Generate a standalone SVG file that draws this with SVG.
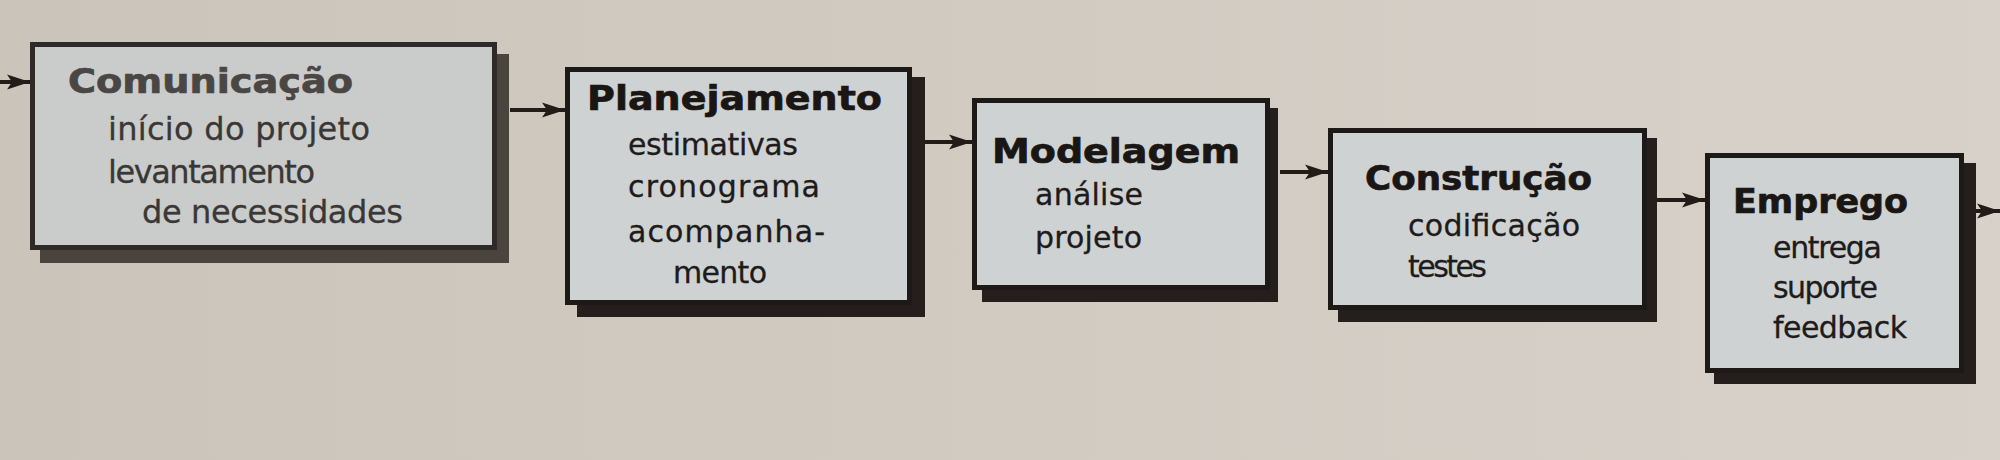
<svg xmlns="http://www.w3.org/2000/svg" width="2000" height="460" viewBox="0 0 2000 460">
  <defs>
    <linearGradient id="paper" x1="0" y1="0" x2="1" y2="0">
      <stop offset="0" stop-color="#cbc4ba"/>
      <stop offset="0.5" stop-color="#d2cbc2"/>
      <stop offset="1" stop-color="#d7d1c9"/>
    </linearGradient>
    <marker id="arrow" markerUnits="userSpaceOnUse" markerWidth="24" markerHeight="18" refX="23" refY="9" orient="auto">
      <path d="M0,1.5 L23,9 L0,16.5 L5,9 Z" fill="#221c19"/>
    </marker>
    <style>
      .box { fill: #ced2d3; stroke: #1d1917; stroke-width: 5; }
      .box1 { fill: #c9cccb; stroke: #2e2a27; stroke-width: 5; }
      .shadow { fill: #241f1c; }
      .shadow1 { fill: #4a443f; }
      .title { font-family: "DejaVu Sans", sans-serif; font-weight: bold; font-size: 33px; fill: #1a1614; stroke: #1a1614; stroke-width: 0.7; }
      .title1 { font-family: "DejaVu Sans", sans-serif; font-weight: bold; font-size: 33px; fill: #4a4643; stroke: #4a4643; stroke-width: 0.7; }
      .sub { font-family: "DejaVu Sans", sans-serif; font-size: 30px; fill: #1e1b1a; stroke: #1e1b1a; stroke-width: 0.3; }
      .sub1 { font-family: "DejaVu Sans", sans-serif; font-size: 32px; fill: #3a3735; stroke: #3a3735; stroke-width: 0.3; }
      .conn { stroke: #221c19; stroke-width: 4; fill: none; marker-end: url(#arrow); }
    </style>
  </defs>

  <rect x="0" y="0" width="2000" height="460" fill="url(#paper)"/>

  <g id="connectors">
    <line class="conn" x1="0" y1="82" x2="30" y2="82"/>
    <line class="conn" x1="510" y1="110" x2="565" y2="110"/>
    <line class="conn" x1="925" y1="142" x2="972" y2="142"/>
    <line class="conn" x1="1280" y1="172" x2="1328" y2="172"/>
    <line class="conn" x1="1657" y1="200" x2="1705" y2="200"/>
    <line class="conn" x1="1975" y1="211" x2="2000" y2="211"/>
  </g>

  <g id="comunicacao">
    <rect class="shadow1" x="40" y="54" width="469" height="209"/>
    <rect class="box1" x="32.5" y="44.5" width="462" height="203"/>
    <text class="title1" x="68" y="93" textLength="285" lengthAdjust="spacingAndGlyphs">Comunicação</text>
    <text class="sub1" x="108" y="140" textLength="262">início do projeto</text>
    <text class="sub1" x="108" y="183" textLength="207">levantamento</text>
    <text class="sub1" x="142" y="223" textLength="261">de necessidades</text>
  </g>

  <g id="planejamento">
    <rect class="shadow" x="577" y="77" width="348" height="240"/>
    <rect class="box" x="567.5" y="69.5" width="342" height="233"/>
    <text class="title" x="587" y="110" textLength="295" lengthAdjust="spacingAndGlyphs">Planejamento</text>
    <text class="sub" x="628" y="155" textLength="170">estimativas</text>
    <text class="sub" x="628" y="197" textLength="192">cronograma</text>
    <text class="sub" x="628" y="242" textLength="197">acompanha-</text>
    <text class="sub" x="673" y="283" textLength="94">mento</text>
  </g>

  <g id="modelagem">
    <rect class="shadow" x="982" y="108" width="296" height="194"/>
    <rect class="box" x="974.5" y="100.5" width="293" height="187"/>
    <text class="title" x="992" y="163" textLength="248" lengthAdjust="spacingAndGlyphs">Modelagem</text>
    <text class="sub" x="1035" y="205" textLength="108">análise</text>
    <text class="sub" x="1035" y="248" textLength="107">projeto</text>
  </g>

  <g id="construcao">
    <rect class="shadow" x="1338" y="138" width="319" height="184"/>
    <rect class="box" x="1330.5" y="130.5" width="314" height="177"/>
    <text class="title" x="1365" y="190" textLength="227" lengthAdjust="spacingAndGlyphs">Construção</text>
    <text class="sub" x="1408" y="236" textLength="172">codificação</text>
    <text class="sub" x="1408" y="277" textLength="79">testes</text>
  </g>

  <g id="emprego">
    <rect class="shadow" x="1714" y="163" width="262" height="221"/>
    <rect class="box" x="1707.5" y="155.5" width="254" height="215"/>
    <text class="title" x="1733" y="213" textLength="175" lengthAdjust="spacingAndGlyphs">Emprego</text>
    <text class="sub" x="1773" y="258" textLength="109">entrega</text>
    <text class="sub" x="1773" y="298" textLength="105">suporte</text>
    <text class="sub" x="1773" y="338" textLength="134">feedback</text>
  </g>
</svg>
